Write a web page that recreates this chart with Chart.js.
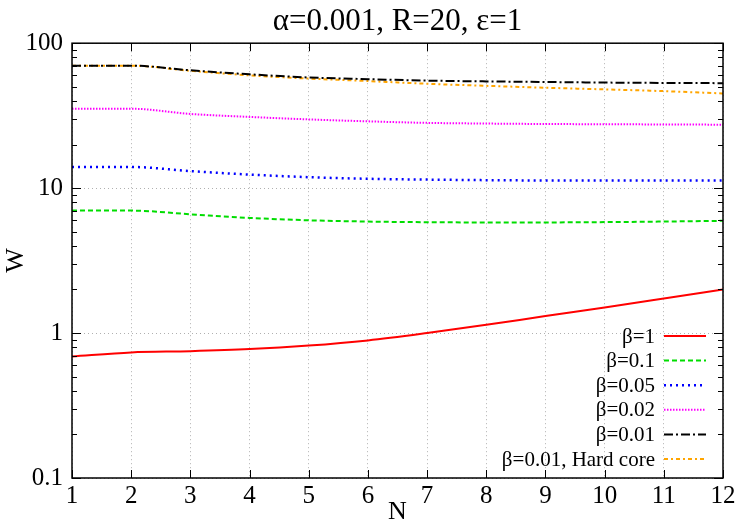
<!DOCTYPE html>
<html>
<head>
<meta charset="utf-8">
<script src="https://cdn.jsdelivr.net/npm/chart.js@4"></script>
<style>
  body { margin: 0; background: #fff; }
</style>
</head>
<body>
<canvas id="w-chart" width="750" height="525"></canvas>
<script>
const SERIF = "'Liberation Serif', 'DejaVu Serif', serif";

// data
const nValues = [1, 2, 3, 4, 5, 6, 7, 8, 9, 10, 11, 12];
const wBeta1 = [0.69, 0.735, 0.75, 0.775, 0.82, 0.89, 1.0, 1.14, 1.31, 1.5, 1.73, 2.0];
const wBeta01 = [7.0, 7.0, 6.6, 6.23, 6.0, 5.88, 5.82, 5.8, 5.8, 5.83, 5.88, 5.95];
const wBeta005 = [14.0, 14.0, 13.1, 12.4, 11.9, 11.6, 11.45, 11.35, 11.3, 11.3, 11.3, 11.3];
const wBeta002 = [35.3, 35.3, 32.5, 31.0, 29.8, 28.9, 28.2, 27.9, 27.7, 27.6, 27.5, 27.4];
const wBeta001 = [70, 70, 65, 61, 58, 56.5, 55.2, 54.5, 54, 53.5, 53.2, 53];
const wHardCore = [70, 70, 64.5, 60, 57, 54.8, 52.5, 50.8, 49.3, 48, 46.7, 45];

const seriesLabels = ["β=1", "β=0.1", "β=0.05", "β=0.02", "β=0.01", "β=0.01, Hard core"];
const yTickValues = [0.1, 1, 10, 100];

function pts(ys) {
  return nValues.map((n, i) => ({ x: n, y: ys[i] }));
}

const styles = [
  { color: "#ff0000", dash: [], width: 2 },
  { color: "#00dd00", dash: [5, 3], width: 2 },
  { color: "#0000ff", dash: [2, 4], width: 2.5 },
  { color: "#ff00ff", dash: [1.5, 1.5], width: 2 },
  { color: "#000000", dash: [9, 3, 2, 3], width: 2 },
  { color: "#ffa500", dash: [4, 3, 2, 3], width: 2 },
];

const allSeries = [wBeta1, wBeta01, wBeta005, wBeta002, wBeta001, wHardCore];

const datasets = allSeries.map((ys, i) => ({
  label: seriesLabels[i],
  data: pts(ys),
  borderColor: styles[i].color,
  borderDash: styles[i].dash,
  borderWidth: styles[i].width,
  pointRadius: 0,
  cubicInterpolationMode: "monotone",
  fill: false,
}));

// inward ticks + frame, gnuplot style
const frameTicks = {
  id: "frameTicks",
  afterDatasetsDraw(chart) {
    const { ctx, chartArea: a, scales } = chart;
    const x = scales.x, y = scales.y;
    ctx.save();
    ctx.strokeStyle = "#000";
    ctx.lineWidth = 1;
    ctx.setLineDash([]);
    ctx.beginPath();
    for (const n of nValues) {
      const px = Math.round(x.getPixelForValue(n)) + 0.5;
      ctx.moveTo(px, a.bottom); ctx.lineTo(px, a.bottom - 8);
      ctx.moveTo(px, a.top); ctx.lineTo(px, a.top + 8);
    }
    for (let d = 0; d < yTickValues.length; d++) {
      const dec = yTickValues[d];
      const py = Math.round(y.getPixelForValue(dec)) + 0.5;
      ctx.moveTo(a.left, py); ctx.lineTo(a.left + 9, py);
      ctx.moveTo(a.right, py); ctx.lineTo(a.right - 9, py);
      if (d < yTickValues.length - 1) {
        for (let k = 2; k <= 9; k++) {
          const my = Math.round(y.getPixelForValue(dec * k)) + 0.5;
          ctx.moveTo(a.left, my); ctx.lineTo(a.left + 5, my);
          ctx.moveTo(a.right, my); ctx.lineTo(a.right - 5, my);
        }
      }
    }
    ctx.stroke();
    ctx.lineWidth = 1.5;
    ctx.strokeRect(a.left, a.top, a.right - a.left, a.bottom - a.top);
    ctx.restore();
  },
};

// key in the lower right corner, text right aligned then the line sample
const keyBox = {
  id: "keyBox",
  afterDraw(chart) {
    const { ctx, chartArea: a } = chart;
    const sets = chart.data.datasets;
    const rowH = 24.6;
    const textRight = a.right - 68;
    const lineL = a.right - 59, lineR = a.right - 17;
    ctx.save();
    ctx.font = "21px " + SERIF;
    ctx.textAlign = "right";
    ctx.textBaseline = "middle";
    sets.forEach((ds, i) => {
      const yy = a.bottom - 19 - (sets.length - 1 - i) * rowH;
      ctx.fillStyle = "#000";
      ctx.fillText(ds.label, textRight, yy + 1);
      ctx.strokeStyle = ds.borderColor;
      ctx.lineWidth = ds.borderWidth;
      ctx.setLineDash(ds.borderDash);
      ctx.beginPath();
      ctx.moveTo(lineL, yy);
      ctx.lineTo(lineR, yy);
      ctx.stroke();
    });
    ctx.restore();
  },
};

new Chart(document.getElementById("w-chart"), {
  type: "line",
  data: { datasets },
  options: {
    responsive: false,
    animation: false,
    devicePixelRatio: 1,
    layout: { padding: { left: 0, right: 27, top: 0, bottom: 0 } },
    plugins: {
      legend: { display: false },
      tooltip: { enabled: false },
      title: {
        display: true,
        text: "α=0.001, R=20, ε=1",
        color: "#000",
        fullSize: false,
        font: { family: SERIF, size: 31, weight: "normal" },
        padding: { top: 3, bottom: 3 },
      },
    },
    scales: {
      x: {
        type: "linear",
        min: 1,
        max: 12,
        afterFit: (s) => { s.height = 47; },
        ticks: {
          stepSize: 1,
          color: "#000",
          padding: 3,
          maxRotation: 0,
          font: { family: SERIF, size: 25 },
        },
        grid: { color: "#b0b0b0", lineWidth: 1, drawTicks: false },
        border: { display: false, dash: [1, 3] },
        title: {
          display: true,
          text: "N",
          color: "#000",
          font: { family: SERIF, size: 26, lineHeight: 0.95 },
          padding: { top: 0, bottom: 0 },
        },
      },
      y: {
        type: "logarithmic",
        min: 0.1,
        max: 100,
        afterFit: (s) => { s.width = 72; },
        afterBuildTicks: (s) => { s.ticks = yTickValues.map((v) => ({ value: v })); },
        ticks: {
          color: "#000",
          padding: 9,
          font: { family: SERIF, size: 25 },
          callback: (v) => String(v),
        },
        grid: { color: "#b0b0b0", lineWidth: 1, drawTicks: false },
        border: { display: false, dash: [1, 3] },
        title: {
          display: true,
          text: "W",
          color: "#000",
          font: { family: SERIF, size: 26 },
          padding: { top: 1, bottom: 0 },
        },
      },
    },
  },
  plugins: [frameTicks, keyBox],
});
</script>
</body>
</html>
